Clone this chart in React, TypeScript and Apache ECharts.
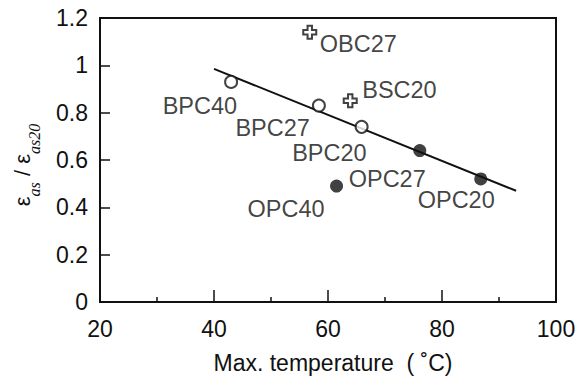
import React, { useEffect, useRef } from "react";
import * as echarts from "echarts";

// Data
const openNames = ["BPC40", "BPC27", "BPC20"];
const openX = [43.0, 58.4, 65.9];
const openY = [0.93, 0.83, 0.74];

const filledNames = ["OPC40", "OPC27", "OPC20"];
const filledX = [61.5, 76.1, 86.8];
const filledY = [0.49, 0.64, 0.52];

const crossNames = ["OBC27", "BSC20"];
const crossX = [56.8, 63.9];
const crossY = [1.14, 0.85];

const fitX = [40, 93];
const fitY = [0.985, 0.47];

const xTicks = [20, 40, 60, 80, 100];
const yTicks = [0, 0.2, 0.4, 0.6, 0.8, 1, 1.2];

// label placement (style)
const labelStyle: Record<string, { align: string; offset: number[] }> = {
  BPC40: { align: "right", offset: [6, 24] },
  BPC27: { align: "right", offset: [-9, 22] },
  BPC20: { align: "right", offset: [5, 26] },
  OPC40: { align: "right", offset: [-12, 23] },
  OPC27: { align: "right", offset: [6, 28] },
  OPC20: { align: "right", offset: [14, 21] },
  OBC27: { align: "left", offset: [10, 12] },
  BSC20: { align: "left", offset: [12, -11] },
};

const FONT = "'Liberation Sans', Arial, sans-serif";
const INK = "#111";
const CROSS = "path://M3.3,0 H6.7 V3.3 H10 V6.7 H6.7 V10 H3.3 V6.7 H0 V3.3 H3.3 Z";

function pts(names: string[], xs: number[], ys: number[]) {
  return names.map((n, i) => ({
    name: n,
    value: [xs[i], ys[i]],
    label: {
      show: true,
      formatter: n,
      position: "inside",
      align: labelStyle[n].align,
      verticalAlign: "middle",
      offset: labelStyle[n].offset,
      fontSize: 23.5,
      fontFamily: FONT,
      color: INK,
    },
  }));
}

export default function App() {
  const ref = useRef<HTMLDivElement>(null);
  useEffect(() => {
    if (!ref.current) return;
    const chart = echarts.init(ref.current, null, { renderer: "svg" });
    chart.setOption({
      animation: false,
      backgroundColor: "#fff",
      grid: {
        left: 100,
        right: 30,
        top: 18,
        bottom: 75,
        show: true,
        borderColor: INK,
        borderWidth: 2,
        backgroundColor: "transparent",
      },
      xAxis: {
        type: "value",
        min: xTicks[0],
        max: xTicks[xTicks.length - 1],
        interval: 20,
        axisLine: { lineStyle: { color: INK, width: 2 } },
        axisTick: { inside: true, length: 12, lineStyle: { color: INK, width: 1.5 } },
        minorTick: { show: true, splitNumber: 2, length: 5, lineStyle: { color: INK, width: 1.5 } },
        splitLine: { show: false },
        axisLabel: { fontSize: 23, fontFamily: FONT, color: INK, margin: 15 },
        name: "Max. temperature  ( ˚C)",
        nameLocation: "middle",
        nameGap: 49,
        nameTextStyle: { fontSize: 23, fontFamily: FONT, color: INK, padding: [0, 0, 0, 10] },
      },
      yAxis: {
        type: "value",
        min: yTicks[0],
        max: yTicks[yTicks.length - 1],
        interval: 0.2,
        axisLine: { lineStyle: { color: INK, width: 2 } },
        axisTick: { inside: true, length: 10, lineStyle: { color: INK, width: 1.5 } },
        splitLine: { show: false },
        axisLabel: { fontSize: 23, fontFamily: FONT, color: INK, margin: 12 },
      },
      graphic: [
        {
          type: "text",
          x: 22,
          y: 165,
          rotation: Math.PI / 2,
          style: {
            text: "{e|ε}{s|as}{e| / ε}{s|as20}",
            align: "center",
            verticalAlign: "middle",
            fill: INK,
            rich: {
              e: { fontSize: 22, fontFamily: FONT, lineHeight: 40, verticalAlign: "middle", color: INK },
              s: {
                fontSize: 16,
                fontStyle: "italic",
                fontFamily: "'Liberation Serif', 'DejaVu Serif', serif",
                lineHeight: 16,
                verticalAlign: "bottom",
                color: INK,
              },
            },
          },
        },
      ],
      series: [
        {
          type: "line",
          data: fitX.map((x, i) => [x, fitY[i]]),
          symbol: "none",
          lineStyle: { color: INK, width: 2 },
          z: 1,
        },
        {
          type: "scatter",
          data: pts(openNames, openX, openY),
          symbol: "circle",
          symbolSize: 12,
          itemStyle: { color: "#fff", borderColor: INK, borderWidth: 2 },
          z: 3,
        },
        {
          type: "scatter",
          data: pts(filledNames, filledX, filledY),
          symbol: "circle",
          symbolSize: 13,
          itemStyle: { color: INK },
          z: 3,
        },
        {
          type: "scatter",
          data: pts(crossNames, crossX, crossY),
          symbol: CROSS,
          symbolSize: 13,
          itemStyle: { color: "#fff", borderColor: INK, borderWidth: 2 },
          z: 3,
        },
      ],
    });
    return () => chart.dispose();
  }, []);
  return (
    <div
      ref={ref}
      style={{ position: "fixed", left: 0, top: 0, width: 586, height: 379, background: "#fff" }}
    />
  );
}
